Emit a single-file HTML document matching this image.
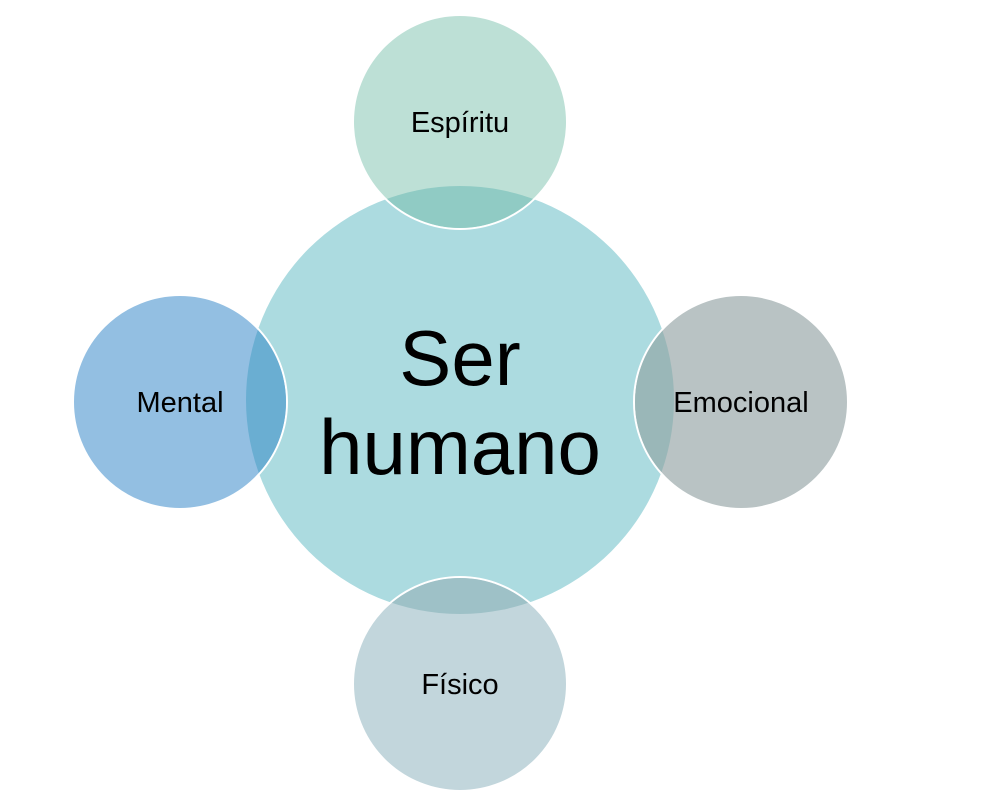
<!DOCTYPE html>
<html><head><style>body{margin:0;background:#fff}svg{display:block}</style></head><body>
<svg width="990" height="808" viewBox="0 0 990 808" xmlns="http://www.w3.org/2000/svg" font-family="Liberation Sans, sans-serif">
<defs><clipPath id="c"><circle cx="460" cy="400" r="214"/></clipPath></defs>
<circle cx="460" cy="400" r="214" fill="#acdbe0"/>
<g stroke="#fff" stroke-width="2">
<circle cx="460" cy="122" r="107" fill="#bde0d6"/>
<circle cx="180" cy="402" r="107" fill="#93bfe2"/>
<circle cx="741" cy="402" r="107" fill="#b9c3c4"/>
<circle cx="460" cy="684" r="107" fill="#c2d6dc"/>
</g>
<g clip-path="url(#c)">
<circle cx="460" cy="122" r="106" fill="#90cbc4"/>
<circle cx="180" cy="402" r="106" fill="#6aaed2"/>
<circle cx="741" cy="402" r="106" fill="#9ab7b8"/>
<circle cx="460" cy="684" r="106" fill="#9ec1c7"/>
</g>
<g text-anchor="middle" fill="#000">
<text x="460" y="385" font-size="78">Ser</text>
<text x="460" y="474" font-size="78">humano</text>
<g font-size="29">
<text x="460" y="132">Espíritu</text>
<text x="180" y="412">Mental</text>
<text x="741" y="412">Emocional</text>
<text x="460" y="694">Físico</text>
</g>
</g>
</svg>
</body></html>
